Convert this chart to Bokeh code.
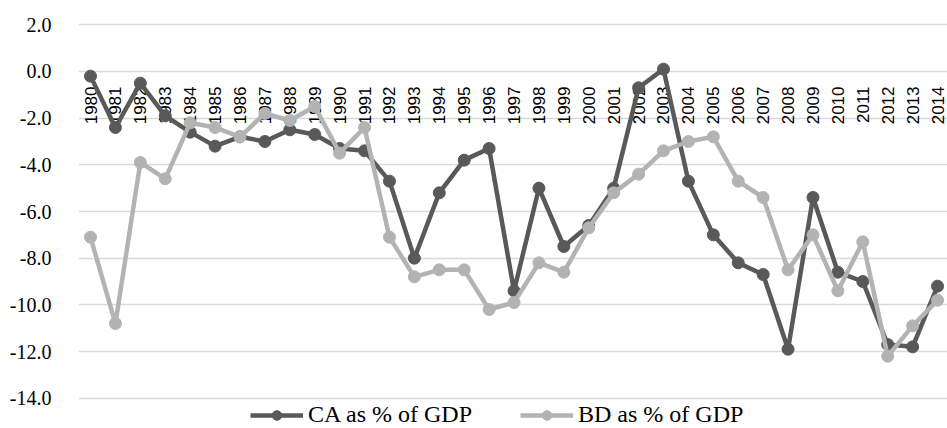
import math
from bokeh.plotting import figure
from bokeh.models import (ColumnDataSource, Range1d, FixedTicker, NumeralTickFormatter,
                          Legend, LegendItem)
from bokeh.core.properties import value
from bokeh.embed import file_html
from bokeh.resources import INLINE

# ---- data ----
years = [1980, 1981, 1982, 1983, 1984, 1985, 1986, 1987, 1988, 1989,
         1990, 1991, 1992, 1993, 1994, 1995, 1996, 1997, 1998, 1999,
         2000, 2001, 2002, 2003, 2004, 2005, 2006, 2007, 2008, 2009,
         2010, 2011, 2012, 2013, 2014]
year_labels = [str(y) for y in years]
ca_pct_gdp = [-0.2, -2.4, -0.5, -1.9, -2.6, -3.2, -2.8, -3.0, -2.5, -2.7,
              -3.3, -3.4, -4.7, -8.0, -5.2, -3.8, -3.3, -9.4, -5.0, -7.5,
              -6.6, -5.0, -0.7, 0.1, -4.7, -7.0, -8.2, -8.7, -11.9, -5.4,
              -8.6, -9.0, -11.7, -11.8, -9.2]
bd_pct_gdp = [-7.1, -10.8, -3.9, -4.6, -2.2, -2.4, -2.8, -1.8, -2.1, -1.5,
              -3.5, -2.4, -7.1, -8.8, -8.5, -8.5, -10.2, -9.9, -8.2, -8.6,
              -6.7, -5.2, -4.4, -3.4, -3.0, -2.8, -4.7, -5.4, -8.5, -7.0,
              -9.4, -7.3, -12.2, -10.9, -9.8]
y_ticks = [-14, -12, -10, -8, -6, -4, -2, 0, 2]
axis_cross = 0.0
series_names = ["CA as % of GDP", "BD as % of GDP"]

CA_COLOR = "#595959"
BD_COLOR = "#b3b3b3"

src = ColumnDataSource(dict(x=years, ca=ca_pct_gdp, bd=bd_pct_gdp,
                            lab=year_labels, zero=[axis_cross] * len(years)))

p = figure(width=947, height=428, output_backend="svg", toolbar_location=None,
           x_range=Range1d(1979.518, 2014.40), y_range=Range1d(-15.298, 3.041),
           x_axis_location=None, min_border_left=78, min_border_right=0,
           min_border_top=0, min_border_bottom=0)
p.outline_line_color = None
p.background_fill_color = "white"
p.xgrid.visible = False
p.ygrid.grid_line_color = "#d9d9d9"
p.ygrid.grid_line_width = 1.5

ax = p.yaxis[0]
ax.ticker = FixedTicker(ticks=y_ticks)
ax.formatter = NumeralTickFormatter(format="0.0")
ax.axis_line_color = None
ax.major_tick_line_color = None
ax.minor_tick_line_color = None
ax.major_label_standoff = 21
ax.major_label_text_font = "Liberation Serif"
ax.major_label_text_font_size = "20px"
ax.major_label_text_color = "#000000"

# year labels hanging under the zero line
p.text(x="x", y="zero", text="lab", source=src, angle=math.pi / 2,
       text_align="right", text_baseline="middle", y_offset=15,
       text_font=value("Liberation Sans"), text_font_size="17px",
       text_color="#000000")

ca_line = p.line("x", "ca", source=src, line_color=CA_COLOR, line_width=4.5)
ca_pts = p.scatter("x", "ca", source=src, size=12, fill_color=CA_COLOR,
                   line_color=CA_COLOR)
bd_line = p.line("x", "bd", source=src, line_color=BD_COLOR, line_width=4.5)
bd_pts = p.scatter("x", "bd", source=src, size=12, fill_color=BD_COLOR,
                   line_color=BD_COLOR)

def make_legend(name, rends, x):
    return Legend(items=[LegendItem(label=name, renderers=rends)],
                  location=(x, 0), orientation="horizontal",
                  border_line_color=None, background_fill_alpha=0,
                  padding=0, margin=0, glyph_width=53, glyph_height=24,
                  label_height=24, label_standoff=5,
                  label_text_font="Liberation Serif",
                  label_text_font_size="24px", label_text_color="#000000")

p.add_layout(make_legend(series_names[0], [ca_line, ca_pts], 172))
p.add_layout(make_legend(series_names[1], [bd_line, bd_pts], 442))

open("out.html", "w").write(file_html(p, INLINE))
